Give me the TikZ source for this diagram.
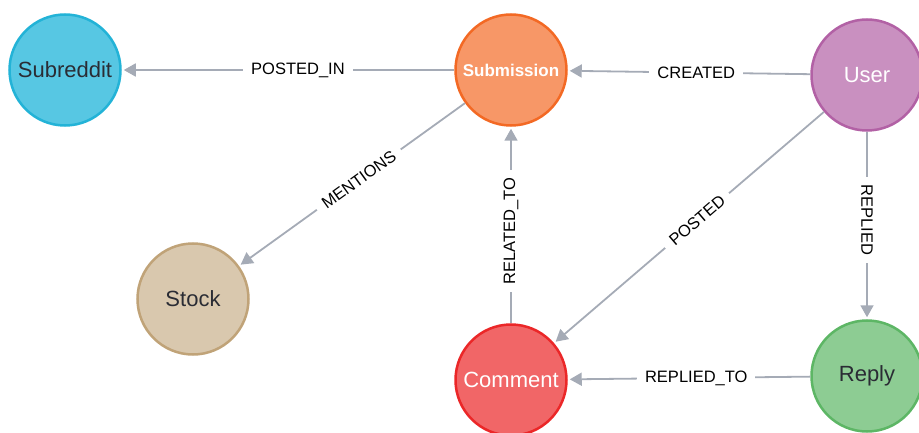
\documentclass[tikz,border=0pt]{standalone}
\usepackage{fontspec}
\setmainfont{Liberation Sans}
\usetikzlibrary{arrows.meta}

% node palette
\definecolor{subredditfill}{HTML}{57C7E3}
\definecolor{subredditline}{HTML}{23B3D7}
\definecolor{submissionfill}{HTML}{F79767}
\definecolor{submissionline}{HTML}{F36924}
\definecolor{userfill}{HTML}{C990C0}
\definecolor{userline}{HTML}{B261A5}
\definecolor{stockfill}{HTML}{D9C8AE}
\definecolor{stockline}{HTML}{C0A378}
\definecolor{commentfill}{HTML}{F16667}
\definecolor{commentline}{HTML}{EB2728}
\definecolor{replyfill}{HTML}{8DCC93}
\definecolor{replyline}{HTML}{5DB665}
\definecolor{darktext}{HTML}{2A2C34}
\definecolor{edgegray}{HTML}{A5ABB6}

\begin{document}
\begin{tikzpicture}[x=1pt, y=-1pt,
  gnode/.style={circle, minimum size=111pt, inner sep=0pt, line width=2.5pt,
    font=\fontsize{22}{22}\selectfont},
  rel/.style={draw=edgegray, line width=1.8pt,
    -{Triangle[length=12pt, width=13pt]}, shorten >=2pt},
  lbl/.style={fill=white, inner xsep=8pt, inner ysep=2pt, text=black,
    font=\fontsize{16.5}{16.5}\selectfont, pos=0.47}]
\useasboundingbox (0,0) rectangle (919,433);

% graph nodes
\node[gnode, fill=subredditfill, draw=subredditline, text=darktext] (subreddit) at (65,70) {Subreddit};
\node[gnode, fill=submissionfill, draw=submissionline, text=white,
      font=\bfseries\fontsize{17}{17}\selectfont] (submission) at (511,70) {Submission};
\node[gnode, fill=userfill, draw=userline, text=white] (user) at (867,75) {User};
\node[gnode, fill=stockfill, draw=stockline, text=darktext] (stock) at (193,299) {Stock};
\node[gnode, fill=commentfill, draw=commentline, text=white] (comment) at (511,380) {Comment};
\node[gnode, fill=replyfill, draw=replyline, text=darktext] (reply) at (867,376) {Reply};

% relationships
\draw[rel] (submission) -- node[lbl] {POSTED\_IN} (subreddit);
\draw[rel] (user) -- node[lbl] {CREATED} (submission);
\draw[rel] (submission) -- node[lbl, sloped] {MENTIONS} (stock);
\draw[rel] (comment) -- node[lbl, rotate=90] {RELATED\_TO} (submission);
\draw[rel] (user) -- node[lbl, sloped] {POSTED} (comment);
\draw[rel] (user) -- node[lbl, rotate=-90] {REPLIED} (reply);
\draw[rel] (reply) -- node[lbl] {REPLIED\_TO} (comment);
\end{tikzpicture}
\end{document}
